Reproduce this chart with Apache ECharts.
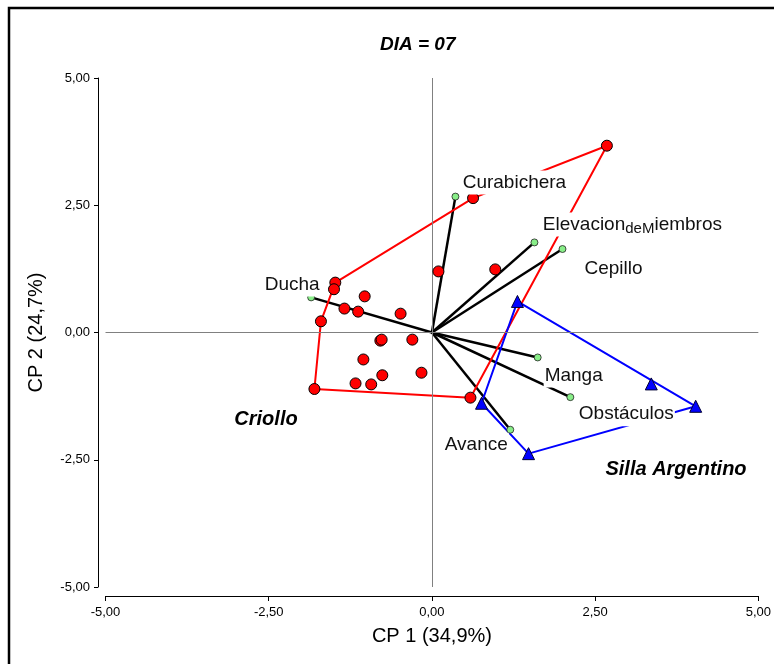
<!DOCTYPE html>
<html>
<head>
<meta charset="utf-8">
<script src="https://cdn.jsdelivr.net/npm/echarts@6/dist/echarts.min.js"></script>
<style>
  html, body { margin: 0; background: #fff; }
  #chart { width: 774px; height: 664px; }
</style>
</head>
<body>
<div id="chart"></div>
<script>
// puntajes de los individuos (CP1, CP2)
const criollo = [
  [2.68, 3.67], [0.63, 2.64], [0.10, 1.20], [0.97, 1.24], [-1.48, 0.98],
  [-1.50, 0.85], [-1.03, 0.71], [-1.34, 0.47], [-1.13, 0.41], [-0.48, 0.37],
  [-1.70, 0.22], [-0.79, -0.16], [-0.77, -0.14], [-0.30, -0.14], [-1.05, -0.53],
  [-0.16, -0.79], [-0.76, -0.84], [-1.17, -1.00], [-0.93, -1.02], [-1.80, -1.11],
  [0.59, -1.28]
];
const sillaArgentino = [
  [1.31, 0.61], [0.76, -1.39], [1.48, -2.38], [3.36, -1.01], [4.04, -1.45]
];

// variables (vectores)
const variableNames = ['Ducha', 'Curabichera', 'ElevaciondeMiembros', 'Cepillo', 'Manga', 'Obstáculos', 'Avance'];
const variableX = [-1.85, 0.36, 1.57, 2.00, 1.62, 2.12, 1.20];
const variableY = [0.69, 2.67, 1.77, 1.64, -0.49, -1.27, -1.91];

const axisMin = -5;
const axisMax = 5;
const tickStep = 2.5;

// desplazamiento de las etiquetas (px)
const labelOffsets = {
  'Ducha': [-19, -13],
  'Curabichera': [59, -14],
  'ElevaciondeMiembros': [98, -18],
  'Cepillo': [51, 20],
  'Manga': [36, 18],
  'Obstáculos': [56, 17],
  'Avance': [-34, 15]
};

const font = 'Liberation Sans, Arial, sans-serif';

// envolvente convexa (cadena monótona)
function hull(pts) {
  const p = pts.slice().sort((a, b) => a[0] - b[0] || a[1] - b[1]);
  const cross = (o, a, b) => (a[0] - o[0]) * (b[1] - o[1]) - (a[1] - o[1]) * (b[0] - o[0]);
  const lower = [], upper = [];
  for (const q of p) {
    while (lower.length >= 2 && cross(lower[lower.length - 2], lower[lower.length - 1], q) <= 0) lower.pop();
    lower.push(q);
  }
  for (let i = p.length - 1; i >= 0; i--) {
    const q = p[i];
    while (upper.length >= 2 && cross(upper[upper.length - 2], upper[upper.length - 1], q) <= 0) upper.pop();
    upper.push(q);
  }
  const h = lower.slice(0, -1).concat(upper.slice(0, -1));
  h.push(h[0]);
  return h;
}

const fmt = v => v.toFixed(2).replace('.', ',');

const chart = echarts.init(document.getElementById('chart'));

const variables = variableNames.map((name, i) => ({
  name: name,
  value: [variableX[i], variableY[i]],
  label: {
    offset: labelOffsets[name]
  }
}));

const option = {
  animation: false,
  backgroundColor: '#fff',
  title: {
    text: 'DIA = 07',
    left: 375,
    top: 30,
    textStyle: { fontFamily: font, fontSize: 19, fontWeight: 'bold', fontStyle: 'italic', color: '#000' }
  },
  grid: { left: 105.5, right: 12, top: 78, bottom: 77 },
  xAxis: {
    type: 'value',
    min: axisMin,
    max: axisMax,
    interval: tickStep,
    offset: 9,
    name: 'CP 1 (34,9%)',
    nameLocation: 'middle',
    nameGap: 30,
    nameTextStyle: { fontFamily: font, fontSize: 20, color: '#000' },
    axisLine: { show: true, onZero: false, lineStyle: { color: '#000', width: 1 } },
    axisTick: { show: true, length: 5, lineStyle: { color: '#000' } },
    axisLabel: { fontFamily: font, fontSize: 13, color: '#000', margin: 10, formatter: fmt },
    splitLine: { show: false }
  },
  yAxis: {
    type: 'value',
    min: axisMin,
    max: axisMax,
    interval: tickStep,
    offset: 7.5,
    name: 'CP 2 (24,7%)',
    nameLocation: 'middle',
    nameGap: 52,
    nameTextStyle: { fontFamily: font, fontSize: 20, color: '#000' },
    axisLine: { show: true, onZero: false, lineStyle: { color: '#000', width: 1 } },
    axisTick: { show: true, length: 4, lineStyle: { color: '#000' } },
    axisLabel: { fontFamily: font, fontSize: 13, color: '#000', margin: 8, formatter: fmt },
    splitLine: { show: false }
  },
  graphic: [
    {
      type: 'rect',
      shape: { x: 9, y: 8, width: 900, height: 800 },
      style: { fill: 'none', stroke: '#000', lineWidth: 2.5 },
      z: 100
    },
    {
      type: 'text',
      x: 266, y: 419,
      style: { text: 'Criollo', fontFamily: font, fontSize: 20, fontWeight: 'bold', fontStyle: 'italic', fill: '#000', align: 'center', verticalAlign: 'middle' },
      z: 100
    },
    {
      type: 'text',
      x: 676, y: 469,
      style: { text: 'Silla Argentino', fontFamily: font, fontSize: 20, fontWeight: 'bold', fontStyle: 'italic', fill: '#000', align: 'center', verticalAlign: 'middle' },
      z: 100
    }
  ],
  series: [
    {
      name: 'cero',
      type: 'line',
      data: [],
      z: 1,
      markLine: {
        silent: true,
        symbol: ['none', 'none'],
        label: { show: false },
        lineStyle: { color: '#808080', width: 1, type: 'solid' },
        data: [{ xAxis: 0 }, { yAxis: 0 }]
      }
    },
    {
      name: 'vectores',
      type: 'lines',
      coordinateSystem: 'cartesian2d',
      z: 2,
      lineStyle: { color: '#000', width: 2.5, opacity: 1 },
      data: variableNames.map((n, i) => ({ coords: [[0, 0], [variableX[i], variableY[i]]] }))
    },
    {
      name: 'Criollo envolvente',
      type: 'line',
      z: 3,
      symbol: 'none',
      lineStyle: { color: '#ff0000', width: 2 },
      data: hull(criollo)
    },
    {
      name: 'Silla envolvente',
      type: 'line',
      z: 4,
      symbol: 'none',
      lineStyle: { color: '#0000ff', width: 2 },
      data: hull(sillaArgentino)
    },
    {
      name: 'Criollo',
      type: 'scatter',
      z: 5,
      symbol: 'circle',
      symbolSize: 11,
      itemStyle: { color: '#ff0000', borderColor: '#000', borderWidth: 1, opacity: 1 },
      data: criollo
    },
    {
      name: 'Silla Argentino',
      type: 'scatter',
      z: 6,
      symbol: 'triangle',
      symbolSize: 12,
      itemStyle: { color: '#0000ff', borderColor: '#000033', borderWidth: 1, opacity: 1 },
      data: sillaArgentino
    },
    {
      name: 'variables',
      type: 'scatter',
      z: 7,
      symbol: 'circle',
      symbolSize: 7,
      itemStyle: { color: '#88ee88', borderColor: '#222', borderWidth: 0.8, opacity: 1 },
      label: {
        show: true,
        position: 'inside',
        align: 'center',
        verticalAlign: 'middle',
        fontFamily: font,
        fontSize: 19,
        color: '#111',
        backgroundColor: '#fff',
        lineHeight: 24,
        padding: [0, 1],
        formatter: p => p.name === 'ElevaciondeMiembros'
          ? '{n|Elevacion}{s|deM}{n|iembros}'
          : p.name,
        rich: {
          n: { fontFamily: font, fontSize: 19, color: '#111', lineHeight: 24, verticalAlign: 'middle' },
          s: { fontFamily: font, fontSize: 15, color: '#111', lineHeight: 14, verticalAlign: 'bottom' }
        }
      },
      data: variables
    }
  ]
};

chart.setOption(option);
</script>
</body>
</html>
